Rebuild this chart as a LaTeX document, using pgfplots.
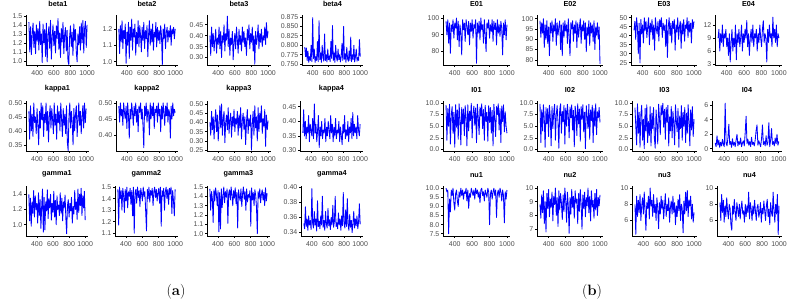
\documentclass[border=0pt]{standalone}
\usepackage{fontspec}
\newfontfamily\arial{Liberation Sans}
\usepackage{pgfplots}
\pgfplotsset{compat=1.18}
\definecolor{tickgray}{HTML}{4D4D4D}
\pgfplotsset{
  tr/.style={
    scale only axis, height=50bp,
    axis x line*=bottom, axis y line*=left,
    axis line style={black, line width=0.9bp, -},
    tick align=outside, major tick length=2bp,
    tick style={black, line width=0.7bp},
    xmin=265, xmax=1035,
    xtick={400,600,800,1000}, xticklabels={400,600,800,1000},
    tick label style={font=\arial\fontsize{7}{8}\selectfont, text=tickgray},
    xticklabel style={inner sep=1bp, yshift=-2bp},
    yticklabel style={inner sep=1.5bp},
    title style={font=\arial\bfseries\fontsize{7.3}{8}\selectfont, at={(0.5,1)}, anchor=south, inner sep=0pt, yshift=2.5bp},
  }
}
\newcommand{\tr}[1]{\addplot[blue, line width=0.85bp, line join=round, mark=none] table[row sep=\\, x expr=300+10*\coordindex, y index=0]{y\\#1};}
\begin{document}
\begin{tikzpicture}
\path[use as bounding box] (0,0) rectangle (795bp,308bp);
% ---------------- panel (a) ----------------
\begin{axis}[tr, at={(26bp,243bp)}, width=64bp, title={beta1}, ymin=0.955, ymax=1.51, ytick={1.0,1.1,1.2,1.3,1.4,1.5}, yticklabels={1.0,1.1,1.2,1.3,1.4,1.5}]
\tr{1.43\\1.10\\1.38\\1.07\\1.30\\1.42\\1.15\\1.33\\1.08\\1.40\\1.22\\1.36\\1.12\\1.44\\1.18\\1.30\\0.98\\1.41\\1.20\\1.35\\1.05\\1.42\\0.99\\1.28\\1.38\\1.14\\1.45\\1.02\\1.26\\1.40\\1.17\\1.33\\1.09\\1.39\\1.25\\1.47\\1.13\\1.31\\1.04\\1.36\\1.21\\1.43\\1.08\\1.29\\1.37\\1.11\\1.34\\1.00\\0.96\\1.27\\1.39\\1.16\\1.32\\1.06\\1.41\\1.23\\1.35\\1.10\\0.99\\1.30\\1.18\\1.38\\1.12\\1.42\\1.20\\1.45\\1.09\\1.36\\1.44\\1.15\\1.40\\}
\end{axis}
\begin{axis}[tr, at={(116bp,243bp)}, width=62bp, title={beta2}, ymin=0.98, ymax=1.285, ytick={1.0,1.1,1.2}, yticklabels={1.0,1.1,1.2}]
\tr{1.20\\1.05\\1.22\\1.12\\1.25\\1.08\\1.19\\1.14\\1.23\\0.99\\1.18\\1.10\\1.24\\1.02\\1.21\\1.13\\1.26\\1.07\\1.20\\1.15\\1.23\\1.04\\1.18\\1.11\\1.25\\1.09\\1.22\\1.16\\1.06\\1.21\\1.13\\1.24\\1.08\\1.19\\1.14\\1.22\\1.03\\1.17\\1.25\\1.10\\1.20\\1.12\\1.23\\1.07\\1.18\\1.15\\1.24\\1.09\\1.21\\1.13\\1.19\\1.11\\1.22\\1.16\\0.98\\1.20\\1.14\\1.23\\1.08\\1.18\\1.21\\1.12\\1.19\\1.15\\1.22\\1.10\\1.20\\1.17\\1.21\\1.14\\1.20\\}
\end{axis}
\begin{axis}[tr, at={(207bp,243bp)}, width=64bp, title={beta3}, ymin=0.266, ymax=0.495, ytick={0.30,0.35,0.40,0.45}, yticklabels={0.30,0.35,0.40,0.45}]
\tr{0.40\\0.31\\0.44\\0.35\\0.41\\0.33\\0.38\\0.43\\0.32\\0.39\\0.36\\0.44\\0.34\\0.42\\0.30\\0.40\\0.37\\0.45\\0.33\\0.41\\0.38\\0.49\\0.35\\0.43\\0.31\\0.39\\0.36\\0.42\\0.29\\0.37\\0.41\\0.34\\0.44\\0.38\\0.32\\0.43\\0.36\\0.40\\0.33\\0.44\\0.37\\0.42\\0.35\\0.39\\0.31\\0.43\\0.38\\0.45\\0.34\\0.41\\0.37\\0.44\\0.33\\0.40\\0.27\\0.42\\0.36\\0.39\\0.45\\0.34\\0.41\\0.37\\0.43\\0.35\\0.40\\0.38\\0.44\\0.36\\0.46\\0.39\\0.42\\}
\end{axis}
\begin{axis}[tr, at={(302bp,243bp)}, width=61bp, title={beta4}, ymin=0.748, ymax=0.880, ytick={0.750,0.775,0.800,0.825,0.850,0.875}, yticklabels={0.750,0.775,0.800,0.825,0.850,0.875}]
\tr{0.795\\0.770\\0.793\\0.760\\0.785\\0.755\\0.770\\0.760\\0.800\\0.757\\0.873\\0.765\\0.790\\0.755\\0.770\\0.760\\0.810\\0.757\\0.865\\0.762\\0.780\\0.755\\0.800\\0.770\\0.758\\0.830\\0.760\\0.775\\0.756\\0.790\\0.762\\0.772\\0.757\\0.810\\0.765\\0.852\\0.760\\0.780\\0.755\\0.800\\0.768\\0.758\\0.790\\0.762\\0.775\\0.756\\0.770\\0.805\\0.760\\0.850\\0.763\\0.778\\0.755\\0.795\\0.765\\0.758\\0.785\\0.760\\0.822\\0.757\\0.775\\0.762\\0.800\\0.756\\0.770\\0.790\\0.758\\0.768\\0.760\\0.815\\0.770\\}
\end{axis}
\begin{axis}[tr, at={(26bp,157bp)}, width=63bp, title={kappa1}, ymin=0.328, ymax=0.507, ytick={0.35,0.40,0.45,0.50}, yticklabels={0.35,0.40,0.45,0.50}]
\tr{0.47\\0.37\\0.49\\0.40\\0.46\\0.38\\0.50\\0.43\\0.45\\0.39\\0.48\\0.42\\0.35\\0.47\\0.41\\0.50\\0.44\\0.49\\0.38\\0.46\\0.43\\0.50\\0.40\\0.47\\0.36\\0.45\\0.49\\0.41\\0.48\\0.44\\0.39\\0.50\\0.42\\0.46\\0.37\\0.49\\0.43\\0.47\\0.40\\0.50\\0.44\\0.38\\0.48\\0.42\\0.46\\0.39\\0.49\\0.36\\0.33\\0.45\\0.50\\0.41\\0.47\\0.43\\0.35\\0.48\\0.40\\0.46\\0.49\\0.38\\0.44\\0.50\\0.42\\0.47\\0.39\\0.45\\0.49\\0.41\\0.50\\0.43\\0.48\\}
\end{axis}
\begin{axis}[tr, at={(116bp,157bp)}, width=62bp, title={kappa2}, ymin=0.35, ymax=0.506, ytick={0.40,0.45,0.50}, yticklabels={0.40,0.45,0.50}]
\tr{0.49\\0.44\\0.50\\0.46\\0.48\\0.43\\0.50\\0.47\\0.45\\0.49\\0.42\\0.50\\0.46\\0.39\\0.48\\0.45\\0.50\\0.47\\0.43\\0.49\\0.46\\0.50\\0.44\\0.48\\0.41\\0.49\\0.47\\0.50\\0.45\\0.48\\0.43\\0.36\\0.49\\0.46\\0.50\\0.44\\0.48\\0.47\\0.40\\0.50\\0.45\\0.49\\0.46\\0.50\\0.42\\0.48\\0.47\\0.49\\0.44\\0.50\\0.46\\0.48\\0.41\\0.49\\0.45\\0.50\\0.47\\0.43\\0.49\\0.46\\0.50\\0.44\\0.48\\0.47\\0.39\\0.49\\0.45\\0.50\\0.46\\0.48\\0.47\\}
\end{axis}
\begin{axis}[tr, at={(207bp,157bp)}, width=64bp, title={kappa3}, ymin=0.245, ymax=0.516, ytick={0.25,0.30,0.35,0.40,0.45,0.50}, yticklabels={0.25,0.30,0.35,0.40,0.45,0.50}]
\tr{0.40\\0.33\\0.46\\0.36\\0.43\\0.31\\0.41\\0.47\\0.35\\0.44\\0.30\\0.39\\0.49\\0.37\\0.50\\0.33\\0.42\\0.46\\0.29\\0.40\\0.44\\0.36\\0.48\\0.34\\0.41\\0.45\\0.32\\0.43\\0.38\\0.47\\0.35\\0.42\\0.39\\0.46\\0.33\\0.44\\0.37\\0.48\\0.31\\0.41\\0.45\\0.36\\0.43\\0.28\\0.40\\0.47\\0.34\\0.42\\0.38\\0.44\\0.25\\0.39\\0.46\\0.33\\0.49\\0.37\\0.43\\0.30\\0.48\\0.35\\0.45\\0.40\\0.49\\0.34\\0.42\\0.38\\0.47\\0.27\\0.44\\0.36\\0.41\\}
\end{axis}
\begin{axis}[tr, at={(300bp,157bp)}, width=63bp, title={kappa4}, ymin=0.298, ymax=0.47, ytick={0.30,0.35,0.40,0.45}, yticklabels={0.30,0.35,0.40,0.45}]
\tr{0.36\\0.44\\0.35\\0.40\\0.34\\0.38\\0.36\\0.42\\0.33\\0.39\\0.37\\0.35\\0.41\\0.34\\0.46\\0.36\\0.39\\0.33\\0.37\\0.42\\0.31\\0.38\\0.35\\0.40\\0.34\\0.37\\0.36\\0.41\\0.33\\0.38\\0.35\\0.40\\0.37\\0.34\\0.42\\0.36\\0.39\\0.33\\0.38\\0.35\\0.41\\0.34\\0.37\\0.36\\0.40\\0.33\\0.38\\0.35\\0.32\\0.39\\0.36\\0.42\\0.34\\0.37\\0.35\\0.40\\0.33\\0.38\\0.36\\0.41\\0.34\\0.43\\0.35\\0.39\\0.36\\0.38\\0.34\\0.42\\0.37\\0.35\\0.39\\}
\end{axis}
\begin{axis}[tr, at={(26bp,72bp)}, width=62bp, title={gamma1}, ymin=0.85, ymax=1.51, ytick={1.0,1.2,1.4}, yticklabels={1.0,1.2,1.4}]
\tr{1.40\\1.05\\1.35\\0.98\\1.30\\1.15\\1.45\\1.10\\1.38\\1.20\\1.28\\1.02\\1.42\\1.12\\1.33\\0.95\\1.25\\1.47\\0.90\\1.36\\0.93\\1.30\\1.18\\1.46\\1.08\\1.34\\1.22\\1.40\\1.06\\1.28\\1.16\\1.44\\1.10\\1.32\\1.00\\1.38\\1.20\\1.26\\1.12\\1.42\\1.15\\1.35\\1.05\\1.30\\1.22\\1.39\\1.08\\0.88\\1.25\\1.33\\1.10\\1.28\\1.18\\1.36\\1.02\\1.24\\1.14\\1.45\\1.20\\1.30\\1.07\\1.47\\1.16\\1.40\\1.25\\1.48\\1.12\\1.38\\1.22\\1.44\\1.06\\}
\end{axis}
\begin{axis}[tr, at={(115bp,72bp)}, width=63bp, title={gamma2}, ymin=1.075, ymax=1.51, ytick={1.1,1.2,1.3,1.4,1.5}, yticklabels={1.1,1.2,1.3,1.4,1.5}]
\tr{1.48\\1.17\\1.50\\1.40\\1.47\\1.30\\1.49\\1.43\\1.28\\1.48\\1.38\\1.50\\1.32\\1.46\\1.42\\1.49\\1.35\\1.47\\1.25\\1.50\\1.10\\1.45\\1.48\\1.36\\1.50\\1.41\\1.47\\1.33\\1.49\\1.44\\1.38\\1.50\\1.42\\1.46\\1.29\\1.12\\1.48\\1.40\\1.50\\1.37\\1.47\\1.43\\1.49\\1.34\\1.46\\1.50\\1.41\\1.48\\1.38\\1.45\\1.49\\1.36\\1.50\\1.16\\1.47\\1.42\\1.49\\1.30\\1.46\\1.50\\1.40\\1.48\\1.35\\1.49\\1.44\\1.50\\1.27\\1.47\\1.38\\1.25\\1.48\\}
\end{axis}
\begin{axis}[tr, at={(207bp,72bp)}, width=63bp, title={gamma3}, ymin=0.975, ymax=1.51, ytick={1.0,1.1,1.2,1.3,1.4,1.5}, yticklabels={1.0,1.1,1.2,1.3,1.4,1.5}]
\tr{1.48\\1.25\\1.45\\1.38\\1.12\\1.47\\1.35\\1.49\\1.42\\1.30\\1.46\\1.02\\1.44\\1.05\\1.48\\1.28\\1.40\\1.50\\1.33\\1.45\\1.39\\1.48\\1.11\\1.43\\1.47\\1.36\\1.50\\1.41\\1.30\\1.46\\1.38\\1.49\\1.32\\1.44\\1.06\\1.47\\1.40\\1.35\\1.48\\1.29\\1.43\\1.50\\1.37\\1.45\\1.25\\1.48\\1.34\\1.42\\1.39\\1.46\\1.08\\1.49\\1.36\\1.44\\1.30\\1.47\\1.41\\1.28\\1.00\\1.45\\1.38\\1.48\\1.33\\1.42\\1.47\\1.36\\1.44\\1.30\\1.49\\1.35\\1.43\\}
\end{axis}
\begin{axis}[tr, at={(301bp,72bp)}, width=62bp, title={gamma4}, ymin=0.3355, ymax=0.4015, ytick={0.34,0.36,0.38,0.40}, yticklabels={0.34,0.36,0.38,0.40}]
\tr{0.352\\0.345\\0.374\\0.348\\0.358\\0.343\\0.362\\0.350\\0.356\\0.344\\0.398\\0.352\\0.346\\0.368\\0.350\\0.358\\0.342\\0.382\\0.348\\0.355\\0.345\\0.362\\0.350\\0.388\\0.347\\0.356\\0.343\\0.368\\0.351\\0.346\\0.372\\0.349\\0.357\\0.344\\0.360\\0.350\\0.376\\0.347\\0.355\\0.388\\0.348\\0.353\\0.345\\0.366\\0.350\\0.358\\0.343\\0.362\\0.349\\0.393\\0.352\\0.346\\0.370\\0.348\\0.385\\0.350\\0.343\\0.364\\0.347\\0.356\\0.340\\0.352\\0.368\\0.346\\0.358\\0.349\\0.362\\0.345\\0.354\\0.378\\0.351\\}
\end{axis}
% ---------------- panel (b) ----------------
\begin{axis}[tr, at={(443bp,243bp)}, width=67bp, title={E01}, ymin=72, ymax=101.8, ytick={80,90,100}, yticklabels={80,90,100}]
\tr{98\\90\\99\\85\\97\\79\\96\\92\\99\\88\\97\\94\\100\\87\\98\\83\\96\\91\\78\\99\\93\\97\\86\\99\\95\\90\\98\\84\\97\\92\\99\\88\\96\\94\\99\\73\\97\\91\\98\\87\\100\\93\\96\\85\\99\\90\\80\\97\\94\\99\\88\\96\\92\\99\\86\\98\\93\\97\\84\\99\\91\\96\\89\\98\\94\\78\\97\\90\\99\\87\\96\\}
\end{axis}
\begin{axis}[tr, at={(537bp,243bp)}, width=66bp, title={E02}, ymin=77.5, ymax=101.8, ytick={80,85,90,95,100}, yticklabels={80,85,90,95,100}]
\tr{99\\91\\98\\93\\100\\86\\97\\90\\99\\88\\96\\82\\98\\93\\99\\89\\97\\94\\100\\87\\98\\92\\96\\99\\85\\97\\82\\98\\91\\99\\94\\97\\88\\100\\92\\82\\98\\95\\99\\89\\97\\93\\99\\86\\98\\91\\96\\100\\88\\97\\94\\99\\90\\98\\84\\96\\92\\99\\87\\98\\93\\97\\89\\99\\85\\96\\92\\98\\90\\96\\78\\}
\end{axis}
\begin{axis}[tr, at={(631bp,243bp)}, width=66bp, title={E03}, ymin=23.8, ymax=51.5, ytick={25,30,35,40,45,50}, yticklabels={25,30,35,40,45,50}]
\tr{43\\48\\38\\50\\45\\30\\47\\25\\49\\41\\46\\36\\50\\43\\48\\39\\45\\50\\35\\47\\42\\49\\38\\46\\32\\50\\44\\41\\48\\37\\49\\45\\50\\39\\47\\43\\46\\34\\49\\28\\45\\50\\40\\47\\36\\48\\44\\49\\32\\46\\42\\50\\38\\45\\48\\33\\47\\41\\49\\37\\46\\44\\50\\39\\48\\42\\47\\36\\49\\44\\48\\}
\end{axis}
\begin{axis}[tr, at={(715bp,243bp)}, width=67bp, title={E04}, ymin=2.8, ymax=14.3, ytick={3,6,9,12}, yticklabels={3,6,9,12}]
\tr{9\\11\\6\\10\\8\\12\\7\\10\\9\\11\\7\\9\\5\\10\\3.5\\8\\11\\6\\9\\7\\12\\4\\10\\8\\11\\7\\9\\12\\6\\10\\8\\11\\9\\13\\7\\10\\5\\9\\11\\8\\12\\7\\10\\9\\11\\6\\10\\8\\12\\9\\7\\11\\13\\8\\10\\9\\3.5\\11\\8\\12\\9\\10\\7\\13.8\\9\\11\\8\\12\\7\\10\\9\\}
\end{axis}
\begin{axis}[tr, at={(443bp,157bp)}, width=67bp, title={I01}, ymin=-0.3, ymax=10.4, ytick={0,2.5,5,7.5,10}, yticklabels={0.0,2.5,5.0,7.5,10.0}]
\tr{9.5\\2.0\\8.8\\5.0\\9.7\\1.2\\7.5\\9.2\\3.5\\8.0\\0.5\\9.6\\4.8\\8.5\\2.2\\9.8\\6.5\\1.0\\9.0\\5.5\\8.7\\3.0\\9.4\\7.0\\0.8\\9.6\\4.0\\8.2\\6.2\\9.9\\2.5\\7.8\\9.3\\5.2\\8.9\\1.5\\9.7\\6.8\\3.2\\9.1\\7.2\\9.8\\4.5\\8.6\\2.0\\9.5\\6.0\\8.0\\1.8\\9.4\\5.8\\9.0\\3.5\\8.4\\0.8\\9.7\\6.5\\2.8\\9.2\\7.5\\9.8\\4.2\\8.8\\1.5\\9.3\\6.0\\9.6\\3.8\\8.1\\5.0\\3.5\\}
\end{axis}
\begin{axis}[tr, at={(537bp,157bp)}, width=66bp, title={I02}, ymin=-0.3, ymax=10.4, ytick={0,2.5,5,7.5,10}, yticklabels={0.0,2.5,5.0,7.5,10.0}]
\tr{9.8\\1.5\\8.5\\4.0\\9.6\\6.5\\0.5\\9.0\\5.5\\8.8\\2.8\\9.5\\7.0\\0.8\\9.2\\4.5\\8.0\\9.7\\2.0\\7.5\\9.4\\5.8\\0.3\\8.6\\9.8\\3.5\\8.2\\6.0\\9.5\\1.2\\8.9\\5.0\\9.7\\7.2\\2.5\\9.1\\6.8\\9.6\\4.2\\8.4\\0.6\\9.3\\7.8\\3.0\\9.8\\5.5\\8.7\\1.8\\9.2\\6.5\\9.6\\3.8\\8.0\\0.2\\9.4\\7.0\\4.5\\9.7\\2.2\\8.5\\6.2\\9.5\\1.5\\8.8\\5.0\\9.8\\3.2\\8.1\\6.8\\9.0\\5.8\\}
\end{axis}
\begin{axis}[tr, at={(632bp,157bp)}, width=65bp, title={I03}, ymin=-0.3, ymax=10.4, ytick={0,2.5,5,7.5,10}, yticklabels={0.0,2.5,5.0,7.5,10.0}]
\tr{9.0\\5.0\\1.0\\9.8\\3.5\\8.0\\0.5\\7.5\\9.5\\2.0\\6.5\\0.2\\8.8\\4.0\\9.6\\1.5\\6.0\\3.0\\9.2\\0.8\\7.8\\4.5\\9.0\\2.5\\0.3\\8.5\\5.5\\1.2\\9.7\\6.8\\3.2\\9.4\\7.5\\9.9\\4.8\\8.6\\2.2\\9.0\\5.8\\9.5\\0.8\\7.0\\4.0\\9.2\\2.5\\8.2\\5.5\\1.0\\9.6\\6.2\\3.8\\8.8\\0.5\\7.2\\4.5\\9.4\\2.0\\8.0\\5.0\\9.0\\1.5\\7.8\\3.5\\9.6\\6.0\\0.8\\8.5\\4.2\\9.2\\2.8\\6.5\\}
\end{axis}
\begin{axis}[tr, at={(712bp,157bp)}, width=70bp, title={I04}, ymin=-0.3, ymax=6.6, ytick={0,2,4,6}, yticklabels={0,2,4,6}]
\tr{0.8\\0.3\\1.8\\0.5\\1.2\\0.2\\0.9\\0.4\\1.3\\0.6\\0.3\\6.3\\0.8\\0.4\\1.5\\3.4\\0.6\\1.0\\0.2\\1.4\\0.5\\0.9\\0.3\\1.2\\2.0\\0.4\\1.0\\0.6\\1.5\\0.3\\0.8\\1.1\\0.4\\2.2\\4.5\\0.7\\1.3\\0.5\\1.0\\0.3\\1.6\\0.6\\0.9\\0.4\\1.2\\2.5\\3.3\\0.5\\1.1\\0.7\\0.3\\1.4\\3.3\\0.6\\1.0\\0.4\\1.8\\0.5\\0.9\\3.6\\0.3\\1.2\\2.8\\0.6\\1.0\\0.4\\1.5\\0.7\\2.0\\0.5\\1.0\\}
\end{axis}
\begin{axis}[tr, at={(443bp,72bp)}, width=67bp, title={nu1}, ymin=7.38, ymax=10.12, ytick={7.5,8,8.5,9,9.5,10}, yticklabels={7.5,8.0,8.5,9.0,9.5,10.0}]
\tr{10.0\\9.8\\9.9\\7.5\\9.4\\8.7\\9.9\\9.6\\10.0\\9.2\\8.8\\9.7\\9.9\\9.3\\9.0\\9.8\\9.5\\10.0\\9.6\\9.9\\9.4\\9.8\\9.7\\10.0\\9.3\\9.9\\8.9\\9.7\\9.5\\10.0\\9.8\\9.6\\9.9\\9.4\\10.0\\9.7\\9.9\\9.5\\9.8\\9.2\\9.9\\10.0\\9.6\\9.8\\9.3\\9.9\\9.7\\9.5\\10.0\\9.8\\8.0\\9.7\\9.9\\9.4\\9.8\\10.0\\9.6\\9.9\\8.4\\9.7\\9.9\\9.5\\10.0\\9.8\\9.3\\9.9\\9.6\\8.1\\9.8\\9.4\\9.9\\}
\end{axis}
\begin{axis}[tr, at={(537bp,72bp)}, width=66bp, title={nu2}, ymin=6.5, ymax=10.15, ytick={7,8,9,10}, yticklabels={7,8,9,10}]
\tr{8.8\\7.8\\9.5\\8.2\\9.8\\7.4\\9.0\\6.8\\9.6\\8.5\\9.9\\7.9\\9.2\\8.6\\9.7\\7.6\\9.4\\8.8\\10.0\\8.0\\9.3\\7.2\\9.8\\8.4\\9.6\\8.9\\7.7\\9.5\\8.3\\10.0\\9.1\\7.5\\9.7\\8.7\\6.7\\9.3\\8.1\\9.9\\8.6\\9.4\\7.8\\9.8\\8.9\\9.2\\7.4\\9.6\\8.3\\9.9\\8.8\\7.0\\9.5\\8.5\\9.7\\7.9\\9.3\\8.7\\10.0\\8.2\\9.4\\7.6\\9.8\\8.6\\9.1\\7.8\\9.6\\8.4\\9.9\\8.0\\9.3\\8.7\\9.5\\}
\end{axis}
\begin{axis}[tr, at={(632bp,72bp)}, width=65bp, title={nu3}, ymin=4.1, ymax=10.25, ytick={6,8,10}, yticklabels={6,8,10}]
\tr{8.0\\4.3\\9.0\\6.5\\8.5\\7.0\\9.2\\6.0\\7.8\\8.8\\6.8\\9.5\\7.2\\4.8\\8.2\\7.5\\9.0\\6.2\\10.0\\7.8\\8.5\\6.5\\9.2\\7.0\\8.0\\6.0\\8.8\\7.5\\5.0\\8.2\\6.8\\9.0\\7.4\\8.5\\6.2\\7.8\\9.3\\6.5\\8.0\\7.2\\8.8\\5.8\\7.6\\8.4\\6.8\\9.0\\7.0\\8.2\\5.5\\7.8\\6.5\\8.6\\7.2\\9.2\\6.0\\8.0\\7.5\\4.5\\8.4\\6.8\\9.5\\7.2\\9.7\\6.5\\8.5\\7.8\\9.0\\6.2\\8.0\\5.8\\7.0\\}
\end{axis}
\begin{axis}[tr, at={(717bp,72bp)}, width=65bp, title={nu4}, ymin=4.1, ymax=10.25, ytick={6,8,10}, yticklabels={6,8,10}]
\tr{8.2\\6.0\\9.2\\7.0\\8.5\\5.8\\7.8\\6.5\\8.8\\7.2\\6.2\\8.0\\7.5\\5.5\\4.8\\7.8\\6.8\\8.6\\7.0\\6.0\\8.2\\7.4\\6.5\\8.0\\6.2\\7.6\\8.4\\6.8\\7.2\\5.8\\8.0\\6.5\\7.8\\7.0\\9.5\\6.2\\8.2\\7.4\\6.0\\7.8\\6.8\\8.5\\7.2\\6.0\\7.6\\8.0\\6.4\\7.0\\8.2\\5.8\\7.5\\6.8\\8.4\\7.2\\6.0\\7.8\\8.6\\6.5\\7.4\\5.5\\8.2\\7.0\\6.5\\9.5\\7.2\\5.8\\8.0\\6.8\\9.2\\4.3\\7.8\\}
\end{axis}
\node[font=\fontsize{15}{17}\selectfont, inner sep=0pt] at (176bp,16bp) {(\textbf{a})};
\node[font=\fontsize{15}{17}\selectfont, inner sep=0pt] at (592bp,16bp) {(\textbf{b})};
\end{tikzpicture}
\end{document}
